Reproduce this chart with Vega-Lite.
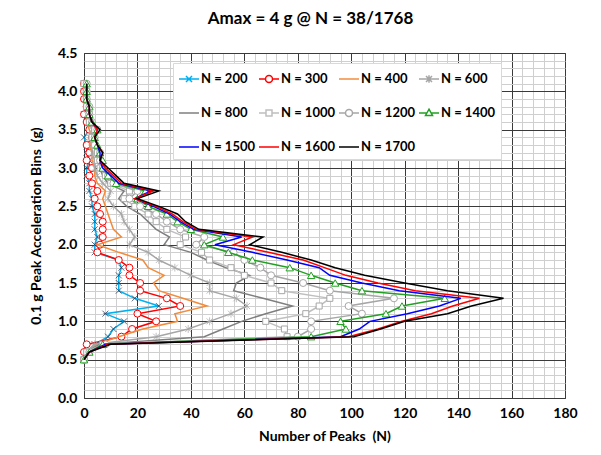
{
"$schema":"https://vega.github.io/schema/vega-lite/v6.json",
"width":481,"height":345,
"autosize":{"type":"none"},
"padding":{"left":84,"top":53,"right":36,"bottom":57},
"background":"white",
"title":{"text":"Amax = 4 g @ N = 38/1768","font":"Lato","fontSize":17,"fontWeight":"bold","color":"#000","anchor":"middle","dx":-14,"offset":18},
"data":{"values":[
{"s":"N = 200","g":0.5,"n":0},{"s":"N = 200","g":0.6,"n":1},{"s":"N = 200","g":0.7,"n":4},{"s":"N = 200","g":0.8,"n":9},{"s":"N = 200","g":0.9,"n":11},{"s":"N = 200","g":1.0,"n":15},{"s":"N = 200","g":1.1,"n":8},{"s":"N = 200","g":1.2,"n":28},{"s":"N = 200","g":1.3,"n":19},{"s":"N = 200","g":1.4,"n":13},{"s":"N = 200","g":1.5,"n":13},{"s":"N = 200","g":1.6,"n":13},{"s":"N = 200","g":1.7,"n":14},{"s":"N = 200","g":1.8,"n":13},{"s":"N = 200","g":1.9,"n":4},{"s":"N = 200","g":2.0,"n":4},{"s":"N = 200","g":2.1,"n":5},{"s":"N = 200","g":2.2,"n":4},{"s":"N = 200","g":2.3,"n":4},{"s":"N = 200","g":2.4,"n":4},{"s":"N = 200","g":2.5,"n":3},{"s":"N = 200","g":2.6,"n":3},{"s":"N = 200","g":2.7,"n":2},{"s":"N = 200","g":2.8,"n":2},{"s":"N = 200","g":2.9,"n":1},{"s":"N = 200","g":3.0,"n":1},{"s":"N = 200","g":3.1,"n":2},{"s":"N = 200","g":3.2,"n":1},{"s":"N = 200","g":3.3,"n":1},{"s":"N = 200","g":3.4,"n":0},{"s":"N = 200","g":3.5,"n":2},{"s":"N = 200","g":3.6,"n":1},{"s":"N = 200","g":3.7,"n":0},{"s":"N = 200","g":3.8,"n":1},{"s":"N = 200","g":3.9,"n":0},{"s":"N = 200","g":4.0,"n":0},{"s":"N = 200","g":4.1,"n":0},
{"s":"N = 300","g":0.5,"n":0},{"s":"N = 300","g":0.6,"n":0},{"s":"N = 300","g":0.7,"n":1},{"s":"N = 300","g":0.8,"n":14},{"s":"N = 300","g":0.9,"n":18},{"s":"N = 300","g":1.0,"n":27},{"s":"N = 300","g":1.1,"n":20},{"s":"N = 300","g":1.2,"n":36},{"s":"N = 300","g":1.3,"n":31},{"s":"N = 300","g":1.4,"n":21},{"s":"N = 300","g":1.5,"n":21},{"s":"N = 300","g":1.6,"n":17},{"s":"N = 300","g":1.7,"n":17},{"s":"N = 300","g":1.8,"n":13},{"s":"N = 300","g":1.9,"n":5},{"s":"N = 300","g":2.0,"n":6},{"s":"N = 300","g":2.1,"n":7},{"s":"N = 300","g":2.2,"n":7},{"s":"N = 300","g":2.3,"n":7},{"s":"N = 300","g":2.4,"n":6},{"s":"N = 300","g":2.5,"n":5},{"s":"N = 300","g":2.6,"n":4},{"s":"N = 300","g":2.7,"n":5},{"s":"N = 300","g":2.8,"n":3},{"s":"N = 300","g":2.9,"n":2},{"s":"N = 300","g":3.0,"n":3},{"s":"N = 300","g":3.1,"n":1},{"s":"N = 300","g":3.2,"n":2},{"s":"N = 300","g":3.3,"n":1},{"s":"N = 300","g":3.4,"n":3},{"s":"N = 300","g":3.5,"n":2},{"s":"N = 300","g":3.6,"n":1},{"s":"N = 300","g":3.7,"n":0},{"s":"N = 300","g":3.8,"n":1},{"s":"N = 300","g":3.9,"n":0},{"s":"N = 300","g":4.0,"n":0},{"s":"N = 300","g":4.1,"n":0},
{"s":"N = 400","g":0.5,"n":0},{"s":"N = 400","g":0.6,"n":1},{"s":"N = 400","g":0.7,"n":5},{"s":"N = 400","g":0.8,"n":13},{"s":"N = 400","g":0.9,"n":22},{"s":"N = 400","g":1.0,"n":35},{"s":"N = 400","g":1.1,"n":34},{"s":"N = 400","g":1.2,"n":46},{"s":"N = 400","g":1.3,"n":37},{"s":"N = 400","g":1.4,"n":28},{"s":"N = 400","g":1.5,"n":26},{"s":"N = 400","g":1.6,"n":30},{"s":"N = 400","g":1.7,"n":24},{"s":"N = 400","g":1.8,"n":22},{"s":"N = 400","g":1.9,"n":13},{"s":"N = 400","g":2.0,"n":5},{"s":"N = 400","g":2.1,"n":14},{"s":"N = 400","g":2.2,"n":11},{"s":"N = 400","g":2.3,"n":10},{"s":"N = 400","g":2.4,"n":9},{"s":"N = 400","g":2.5,"n":8},{"s":"N = 400","g":2.6,"n":7},{"s":"N = 400","g":2.7,"n":8},{"s":"N = 400","g":2.8,"n":5},{"s":"N = 400","g":2.9,"n":4},{"s":"N = 400","g":3.0,"n":4},{"s":"N = 400","g":3.1,"n":3},{"s":"N = 400","g":3.2,"n":3},{"s":"N = 400","g":3.3,"n":2},{"s":"N = 400","g":3.4,"n":3},{"s":"N = 400","g":3.5,"n":2},{"s":"N = 400","g":3.6,"n":1},{"s":"N = 400","g":3.7,"n":1},{"s":"N = 400","g":3.8,"n":1},{"s":"N = 400","g":3.9,"n":0},{"s":"N = 400","g":4.0,"n":0},{"s":"N = 400","g":4.1,"n":0},
{"s":"N = 600","g":0.5,"n":0},{"s":"N = 600","g":0.6,"n":1},{"s":"N = 600","g":0.7,"n":4},{"s":"N = 600","g":0.8,"n":27},{"s":"N = 600","g":0.9,"n":39},{"s":"N = 600","g":1.0,"n":47},{"s":"N = 600","g":1.1,"n":55},{"s":"N = 600","g":1.2,"n":61},{"s":"N = 600","g":1.3,"n":57},{"s":"N = 600","g":1.4,"n":47},{"s":"N = 600","g":1.5,"n":47},{"s":"N = 600","g":1.6,"n":40},{"s":"N = 600","g":1.7,"n":34},{"s":"N = 600","g":1.8,"n":28},{"s":"N = 600","g":1.9,"n":24},{"s":"N = 600","g":2.0,"n":17},{"s":"N = 600","g":2.1,"n":19},{"s":"N = 600","g":2.2,"n":17},{"s":"N = 600","g":2.3,"n":15},{"s":"N = 600","g":2.4,"n":14},{"s":"N = 600","g":2.5,"n":11},{"s":"N = 600","g":2.6,"n":9},{"s":"N = 600","g":2.7,"n":10},{"s":"N = 600","g":2.8,"n":7},{"s":"N = 600","g":2.9,"n":5},{"s":"N = 600","g":3.0,"n":4},{"s":"N = 600","g":3.1,"n":4},{"s":"N = 600","g":3.2,"n":3},{"s":"N = 600","g":3.3,"n":3},{"s":"N = 600","g":3.4,"n":2},{"s":"N = 600","g":3.5,"n":3},{"s":"N = 600","g":3.6,"n":2},{"s":"N = 600","g":3.7,"n":1},{"s":"N = 600","g":3.8,"n":1},{"s":"N = 600","g":3.9,"n":1},{"s":"N = 600","g":4.0,"n":0},{"s":"N = 600","g":4.1,"n":0},
{"s":"N = 800","g":0.5,"n":0},{"s":"N = 800","g":0.6,"n":1},{"s":"N = 800","g":0.7,"n":6},{"s":"N = 800","g":0.8,"n":45},{"s":"N = 800","g":0.9,"n":52},{"s":"N = 800","g":1.0,"n":59},{"s":"N = 800","g":1.1,"n":68},{"s":"N = 800","g":1.2,"n":78},{"s":"N = 800","g":1.3,"n":67},{"s":"N = 800","g":1.4,"n":56},{"s":"N = 800","g":1.5,"n":57},{"s":"N = 800","g":1.6,"n":62},{"s":"N = 800","g":1.7,"n":53},{"s":"N = 800","g":1.8,"n":46},{"s":"N = 800","g":1.9,"n":40},{"s":"N = 800","g":2.0,"n":30},{"s":"N = 800","g":2.1,"n":32},{"s":"N = 800","g":2.2,"n":27},{"s":"N = 800","g":2.3,"n":24},{"s":"N = 800","g":2.4,"n":21},{"s":"N = 800","g":2.5,"n":16},{"s":"N = 800","g":2.6,"n":13},{"s":"N = 800","g":2.7,"n":15},{"s":"N = 800","g":2.8,"n":9},{"s":"N = 800","g":2.9,"n":7},{"s":"N = 800","g":3.0,"n":6},{"s":"N = 800","g":3.1,"n":5},{"s":"N = 800","g":3.2,"n":4},{"s":"N = 800","g":3.3,"n":4},{"s":"N = 800","g":3.4,"n":3},{"s":"N = 800","g":3.5,"n":4},{"s":"N = 800","g":3.6,"n":2},{"s":"N = 800","g":3.7,"n":2},{"s":"N = 800","g":3.8,"n":1},{"s":"N = 800","g":3.9,"n":1},{"s":"N = 800","g":4.0,"n":1},{"s":"N = 800","g":4.1,"n":0},
{"s":"N = 1000","g":0.5,"n":0},{"s":"N = 1000","g":0.6,"n":1},{"s":"N = 1000","g":0.7,"n":7},{"s":"N = 1000","g":0.8,"n":76},{"s":"N = 1000","g":0.9,"n":75},{"s":"N = 1000","g":1.0,"n":68},{"s":"N = 1000","g":1.1,"n":83},{"s":"N = 1000","g":1.2,"n":88},{"s":"N = 1000","g":1.3,"n":92},{"s":"N = 1000","g":1.4,"n":74},{"s":"N = 1000","g":1.5,"n":70},{"s":"N = 1000","g":1.6,"n":60},{"s":"N = 1000","g":1.7,"n":55},{"s":"N = 1000","g":1.8,"n":47},{"s":"N = 1000","g":1.9,"n":44},{"s":"N = 1000","g":2.0,"n":36},{"s":"N = 1000","g":2.1,"n":38},{"s":"N = 1000","g":2.2,"n":31},{"s":"N = 1000","g":2.3,"n":27},{"s":"N = 1000","g":2.4,"n":24},{"s":"N = 1000","g":2.5,"n":19},{"s":"N = 1000","g":2.6,"n":15},{"s":"N = 1000","g":2.7,"n":17},{"s":"N = 1000","g":2.8,"n":10},{"s":"N = 1000","g":2.9,"n":8},{"s":"N = 1000","g":3.0,"n":6},{"s":"N = 1000","g":3.1,"n":5},{"s":"N = 1000","g":3.2,"n":5},{"s":"N = 1000","g":3.3,"n":4},{"s":"N = 1000","g":3.4,"n":3},{"s":"N = 1000","g":3.5,"n":4},{"s":"N = 1000","g":3.6,"n":2},{"s":"N = 1000","g":3.7,"n":2},{"s":"N = 1000","g":3.8,"n":1},{"s":"N = 1000","g":3.9,"n":1},{"s":"N = 1000","g":4.0,"n":1},{"s":"N = 1000","g":4.1,"n":0},
{"s":"N = 1200","g":0.5,"n":0},{"s":"N = 1200","g":0.6,"n":2},{"s":"N = 1200","g":0.7,"n":8},{"s":"N = 1200","g":0.8,"n":80},{"s":"N = 1200","g":0.9,"n":85},{"s":"N = 1200","g":1.0,"n":85},{"s":"N = 1200","g":1.1,"n":104},{"s":"N = 1200","g":1.2,"n":99},{"s":"N = 1200","g":1.3,"n":116},{"s":"N = 1200","g":1.4,"n":92},{"s":"N = 1200","g":1.5,"n":82},{"s":"N = 1200","g":1.6,"n":70},{"s":"N = 1200","g":1.7,"n":66},{"s":"N = 1200","g":1.8,"n":60},{"s":"N = 1200","g":1.9,"n":56},{"s":"N = 1200","g":2.0,"n":42},{"s":"N = 1200","g":2.1,"n":45},{"s":"N = 1200","g":2.2,"n":36},{"s":"N = 1200","g":2.3,"n":31},{"s":"N = 1200","g":2.4,"n":27},{"s":"N = 1200","g":2.5,"n":21},{"s":"N = 1200","g":2.6,"n":17},{"s":"N = 1200","g":2.7,"n":20},{"s":"N = 1200","g":2.8,"n":11},{"s":"N = 1200","g":2.9,"n":9},{"s":"N = 1200","g":3.0,"n":7},{"s":"N = 1200","g":3.1,"n":6},{"s":"N = 1200","g":3.2,"n":6},{"s":"N = 1200","g":3.3,"n":4},{"s":"N = 1200","g":3.4,"n":4},{"s":"N = 1200","g":3.5,"n":5},{"s":"N = 1200","g":3.6,"n":3},{"s":"N = 1200","g":3.7,"n":2},{"s":"N = 1200","g":3.8,"n":2},{"s":"N = 1200","g":3.9,"n":1},{"s":"N = 1200","g":4.0,"n":1},{"s":"N = 1200","g":4.1,"n":1},
{"s":"N = 1400","g":0.5,"n":0},{"s":"N = 1400","g":0.6,"n":2},{"s":"N = 1400","g":0.7,"n":7},{"s":"N = 1400","g":0.8,"n":85},{"s":"N = 1400","g":0.9,"n":98},{"s":"N = 1400","g":1.0,"n":96},{"s":"N = 1400","g":1.1,"n":113},{"s":"N = 1400","g":1.2,"n":119},{"s":"N = 1400","g":1.3,"n":135},{"s":"N = 1400","g":1.4,"n":104},{"s":"N = 1400","g":1.5,"n":94},{"s":"N = 1400","g":1.6,"n":85},{"s":"N = 1400","g":1.7,"n":77},{"s":"N = 1400","g":1.8,"n":63},{"s":"N = 1400","g":1.9,"n":54},{"s":"N = 1400","g":2.0,"n":45},{"s":"N = 1400","g":2.1,"n":52},{"s":"N = 1400","g":2.2,"n":40},{"s":"N = 1400","g":2.3,"n":35},{"s":"N = 1400","g":2.4,"n":31},{"s":"N = 1400","g":2.5,"n":24},{"s":"N = 1400","g":2.6,"n":20},{"s":"N = 1400","g":2.7,"n":23},{"s":"N = 1400","g":2.8,"n":12},{"s":"N = 1400","g":2.9,"n":9},{"s":"N = 1400","g":3.0,"n":7},{"s":"N = 1400","g":3.1,"n":7},{"s":"N = 1400","g":3.2,"n":6},{"s":"N = 1400","g":3.3,"n":5},{"s":"N = 1400","g":3.4,"n":4},{"s":"N = 1400","g":3.5,"n":5},{"s":"N = 1400","g":3.6,"n":3},{"s":"N = 1400","g":3.7,"n":2},{"s":"N = 1400","g":3.8,"n":2},{"s":"N = 1400","g":3.9,"n":1},{"s":"N = 1400","g":4.0,"n":1},{"s":"N = 1400","g":4.1,"n":1},
{"s":"N = 1500","g":0.5,"n":0},{"s":"N = 1500","g":0.6,"n":2},{"s":"N = 1500","g":0.7,"n":8},{"s":"N = 1500","g":0.8,"n":96},{"s":"N = 1500","g":0.9,"n":103},{"s":"N = 1500","g":1.0,"n":107},{"s":"N = 1500","g":1.1,"n":121},{"s":"N = 1500","g":1.2,"n":133},{"s":"N = 1500","g":1.3,"n":141},{"s":"N = 1500","g":1.4,"n":118},{"s":"N = 1500","g":1.5,"n":104},{"s":"N = 1500","g":1.6,"n":92},{"s":"N = 1500","g":1.7,"n":88},{"s":"N = 1500","g":1.8,"n":76},{"s":"N = 1500","g":1.9,"n":63},{"s":"N = 1500","g":2.0,"n":49},{"s":"N = 1500","g":2.1,"n":59},{"s":"N = 1500","g":2.2,"n":41},{"s":"N = 1500","g":2.3,"n":36},{"s":"N = 1500","g":2.4,"n":32},{"s":"N = 1500","g":2.5,"n":26},{"s":"N = 1500","g":2.6,"n":19},{"s":"N = 1500","g":2.7,"n":25},{"s":"N = 1500","g":2.8,"n":13},{"s":"N = 1500","g":2.9,"n":10},{"s":"N = 1500","g":3.0,"n":7},{"s":"N = 1500","g":3.1,"n":6},{"s":"N = 1500","g":3.2,"n":6},{"s":"N = 1500","g":3.3,"n":5},{"s":"N = 1500","g":3.4,"n":4},{"s":"N = 1500","g":3.5,"n":5},{"s":"N = 1500","g":3.6,"n":3},{"s":"N = 1500","g":3.7,"n":2},{"s":"N = 1500","g":3.8,"n":2},{"s":"N = 1500","g":3.9,"n":1},{"s":"N = 1500","g":4.0,"n":1},{"s":"N = 1500","g":4.1,"n":1},
{"s":"N = 1600","g":0.5,"n":0},{"s":"N = 1600","g":0.6,"n":2},{"s":"N = 1600","g":0.7,"n":9},{"s":"N = 1600","g":0.8,"n":99},{"s":"N = 1600","g":0.9,"n":110},{"s":"N = 1600","g":1.0,"n":119},{"s":"N = 1600","g":1.1,"n":130},{"s":"N = 1600","g":1.2,"n":138},{"s":"N = 1600","g":1.3,"n":148},{"s":"N = 1600","g":1.4,"n":124},{"s":"N = 1600","g":1.5,"n":110},{"s":"N = 1600","g":1.6,"n":98},{"s":"N = 1600","g":1.7,"n":90},{"s":"N = 1600","g":1.8,"n":82},{"s":"N = 1600","g":1.9,"n":69},{"s":"N = 1600","g":2.0,"n":56},{"s":"N = 1600","g":2.1,"n":63},{"s":"N = 1600","g":2.2,"n":42},{"s":"N = 1600","g":2.3,"n":37},{"s":"N = 1600","g":2.4,"n":33},{"s":"N = 1600","g":2.5,"n":27},{"s":"N = 1600","g":2.6,"n":19},{"s":"N = 1600","g":2.7,"n":26},{"s":"N = 1600","g":2.8,"n":14},{"s":"N = 1600","g":2.9,"n":11},{"s":"N = 1600","g":3.0,"n":8},{"s":"N = 1600","g":3.1,"n":6},{"s":"N = 1600","g":3.2,"n":7},{"s":"N = 1600","g":3.3,"n":5},{"s":"N = 1600","g":3.4,"n":4},{"s":"N = 1600","g":3.5,"n":5},{"s":"N = 1600","g":3.6,"n":3},{"s":"N = 1600","g":3.7,"n":2},{"s":"N = 1600","g":3.8,"n":2},{"s":"N = 1600","g":3.9,"n":1},{"s":"N = 1600","g":4.0,"n":1},{"s":"N = 1600","g":4.1,"n":1},
{"s":"N = 1700","g":0.5,"n":0},{"s":"N = 1700","g":0.6,"n":2},{"s":"N = 1700","g":0.7,"n":10},{"s":"N = 1700","g":0.8,"n":101},{"s":"N = 1700","g":0.9,"n":111},{"s":"N = 1700","g":1.0,"n":120},{"s":"N = 1700","g":1.1,"n":136},{"s":"N = 1700","g":1.2,"n":145},{"s":"N = 1700","g":1.3,"n":157},{"s":"N = 1700","g":1.4,"n":136},{"s":"N = 1700","g":1.5,"n":120},{"s":"N = 1700","g":1.6,"n":105},{"s":"N = 1700","g":1.7,"n":94},{"s":"N = 1700","g":1.8,"n":85},{"s":"N = 1700","g":1.9,"n":74},{"s":"N = 1700","g":2.0,"n":62},{"s":"N = 1700","g":2.1,"n":67},{"s":"N = 1700","g":2.2,"n":43},{"s":"N = 1700","g":2.3,"n":38},{"s":"N = 1700","g":2.4,"n":35},{"s":"N = 1700","g":2.5,"n":28},{"s":"N = 1700","g":2.6,"n":20},{"s":"N = 1700","g":2.7,"n":28},{"s":"N = 1700","g":2.8,"n":15},{"s":"N = 1700","g":2.9,"n":12},{"s":"N = 1700","g":3.0,"n":9},{"s":"N = 1700","g":3.1,"n":6},{"s":"N = 1700","g":3.2,"n":7},{"s":"N = 1700","g":3.3,"n":5},{"s":"N = 1700","g":3.4,"n":4},{"s":"N = 1700","g":3.5,"n":6},{"s":"N = 1700","g":3.6,"n":3},{"s":"N = 1700","g":3.7,"n":2},{"s":"N = 1700","g":3.8,"n":2},{"s":"N = 1700","g":3.9,"n":1},{"s":"N = 1700","g":4.0,"n":1},{"s":"N = 1700","g":4.1,"n":1}
]},
"encoding":{
"x":{"field":"n","type":"quantitative","scale":{"domain":[0,180],"nice":false,"zero":true},
"axis":{"title":"Number of Peaks \u00a0(N)","values":[0,4,8,12,16,20,24,28,32,36,40,44,48,52,56,60,64,68,72,76,80,84,88,92,96,100,104,108,112,116,120,124,128,132,136,140,144,148,152,156,160,164,168,172,176,180],
"labelExpr":"datum.value % 20 === 0 ? datum.label : ''","labelOverlap":false,"labelFlush":false,"ticks":false,"domain":false,"labelPadding":8,"titlePadding":9,
"gridColor":{"condition":{"test":"datum.value % 20 === 0","value":"#3a3a3a"},"value":"#cfcfcf"},"gridWidth":1}},
"y":{"field":"g","type":"quantitative","scale":{"domain":[0,4.5],"nice":false,"zero":true},
"axis":{"title":"0.1 g Peak Acceleration Bins \u00a0(g)","values":[0,0.1,0.2,0.3,0.4,0.5,0.6,0.7,0.8,0.9,1,1.1,1.2,1.3,1.4,1.5,1.6,1.7,1.8,1.9,2,2.1,2.2,2.3,2.4,2.5,2.6,2.7,2.8,2.9,3,3.1,3.2,3.3,3.4,3.5,3.6,3.7,3.8,3.9,4,4.1,4.2,4.3,4.4,4.5],
"format":".1f","labelExpr":"round(datum.value*10) % 5 === 0 ? datum.label : ''","labelOverlap":false,"labelFlush":false,"ticks":false,"domain":false,"labelPadding":7,"titlePadding":14,
"gridColor":{"condition":{"test":"round(datum.value*10) % 5 === 0","value":"#3a3a3a"},"value":"#cfcfcf"},"gridWidth":1}},
"order":{"field":"g","type":"quantitative"}
},
"layer":[
{"transform":[{"filter":"datum.s === 'N = 200'"}],"mark":{"type":"line","strokeWidth":1.5},
 "encoding":{"color":{"field":"s","type":"nominal",
  "scale":{"domain":["N = 200","N = 300","N = 400","N = 600","N = 800","N = 1000","N = 1200","N = 1400","N = 1500","N = 1600","N = 1700"],
  "range":["#00B0F0","#FF0000","#F28C3C","#A6A6A6","#7F7F7F","#BFBFBF","#A6A6A6","#22A022","#0000FF","#FF0000","#000000"]},
  "legend":{"title":null,"orient":"none","direction":"horizontal","legendX":89,"legendY":10,"columns":4,"gridAlign":"all","columnPadding":0,"rowPadding":16,"padding":5,
   "strokeColor":"#d9d9d9","fillColor":"white","symbolSize":400,"symbolStrokeWidth":1.5,"symbolType":"stroke",
   "labelFont":"Lato","labelFontSize":13,"labelFontWeight":"bold","labelColor":"#000","labelOffset":1,"labelLimit":0,
   "encode":{"symbols":{"update":{"fill":{"value":"white"},"strokeWidth":{"value":1.5},
    "shape":{"signal":"datum.value === 'N = 200' ? 'M-1,0H1M-0.3,-0.3L0.3,0.3M-0.3,0.3L0.3,-0.3' : (datum.value === 'N = 300' || datum.value === 'N = 1200') ? 'M-1,0H-0.35M0.35,0H1M-0.35,0A0.35,0.35,0,1,1,0.35,0A0.35,0.35,0,1,1,-0.35,0Z' : datum.value === 'N = 600' ? 'M-1,0H1M-0.3,-0.3L0.3,0.3M-0.3,0.3L0.3,-0.3M0,-0.38V0.38' : datum.value === 'N = 1000' ? 'M-1,0H-0.3M0.3,0H1M-0.3,-0.3H0.3V0.3H-0.3Z' : datum.value === 'N = 1400' ? 'M-1,0H-0.25M0.25,0H1M0,-0.38L0.35,0.25H-0.35Z' : 'M-1,0H1'"}}}}}}}},
{"transform":[{"filter":"datum.s === 'N = 200'"}],"mark":{"type":"point","shape":"M-1,-1L1,1M-1,1L1,-1","size":36,"strokeWidth":1,"filled":false,"stroke":"#1F2D50"}},
{"transform":[{"filter":"datum.s === 'N = 300'"}],"mark":{"type":"line","strokeWidth":1.5},"encoding":{"color":{"field":"s","type":"nominal"}}},
{"transform":[{"filter":"datum.s === 'N = 300'"}],"mark":{"type":"point","shape":"circle","size":49,"strokeWidth":1,"fill":"white","fillOpacity":1,"stroke":"#FF0000"}},
{"transform":[{"filter":"datum.s === 'N = 400'"}],"mark":{"type":"line","strokeWidth":1.5},"encoding":{"color":{"field":"s","type":"nominal"}}},
{"transform":[{"filter":"datum.s === 'N = 600'"}],"mark":{"type":"line","strokeWidth":1.5},"encoding":{"color":{"field":"s","type":"nominal"}}},
{"transform":[{"filter":"datum.s === 'N = 600'"}],"mark":{"type":"point","shape":"M-1,-1L1,1M-1,1L1,-1M0,-1.3V1.3","size":36,"strokeWidth":1,"filled":false,"stroke":"#A6A6A6"}},
{"transform":[{"filter":"datum.s === 'N = 800'"}],"mark":{"type":"line","strokeWidth":1.5},"encoding":{"color":{"field":"s","type":"nominal"}}},
{"transform":[{"filter":"datum.s === 'N = 1000'"}],"mark":{"type":"line","strokeWidth":1.5},"encoding":{"color":{"field":"s","type":"nominal"}}},
{"transform":[{"filter":"datum.s === 'N = 1000'"}],"mark":{"type":"point","shape":"square","size":36,"strokeWidth":1,"fill":"white","fillOpacity":1,"stroke":"#A6A6A6"}},
{"transform":[{"filter":"datum.s === 'N = 1200'"}],"mark":{"type":"line","strokeWidth":1.5},"encoding":{"color":{"field":"s","type":"nominal"}}},
{"transform":[{"filter":"datum.s === 'N = 1200'"}],"mark":{"type":"point","shape":"circle","size":49,"strokeWidth":1,"fill":"white","fillOpacity":1,"stroke":"#A6A6A6"}},
{"transform":[{"filter":"datum.s === 'N = 1400'"}],"mark":{"type":"line","strokeWidth":1.5},"encoding":{"color":{"field":"s","type":"nominal"}}},
{"transform":[{"filter":"datum.s === 'N = 1400'"}],"mark":{"type":"point","shape":"triangle-up","size":55,"strokeWidth":1,"fill":"white","fillOpacity":1,"stroke":"#22A022"}},
{"transform":[{"filter":"datum.s === 'N = 1500'"}],"mark":{"type":"line","strokeWidth":1.5},"encoding":{"color":{"field":"s","type":"nominal"}}},
{"transform":[{"filter":"datum.s === 'N = 1600'"}],"mark":{"type":"line","strokeWidth":1.5},"encoding":{"color":{"field":"s","type":"nominal"}}},
{"transform":[{"filter":"datum.s === 'N = 1700'"}],"mark":{"type":"line","strokeWidth":1.5},"encoding":{"color":{"field":"s","type":"nominal"}}}
],
"config":{
"font":"Lato",
"view":{"stroke":"#3a3a3a","strokeWidth":1},
"axis":{"labelFont":"Lato","labelFontSize":14,"labelFontWeight":"bold","labelColor":"#000","titleFont":"Lato","titleFontSize":14,"titleFontWeight":"bold","titleColor":"#000"}
}
}
